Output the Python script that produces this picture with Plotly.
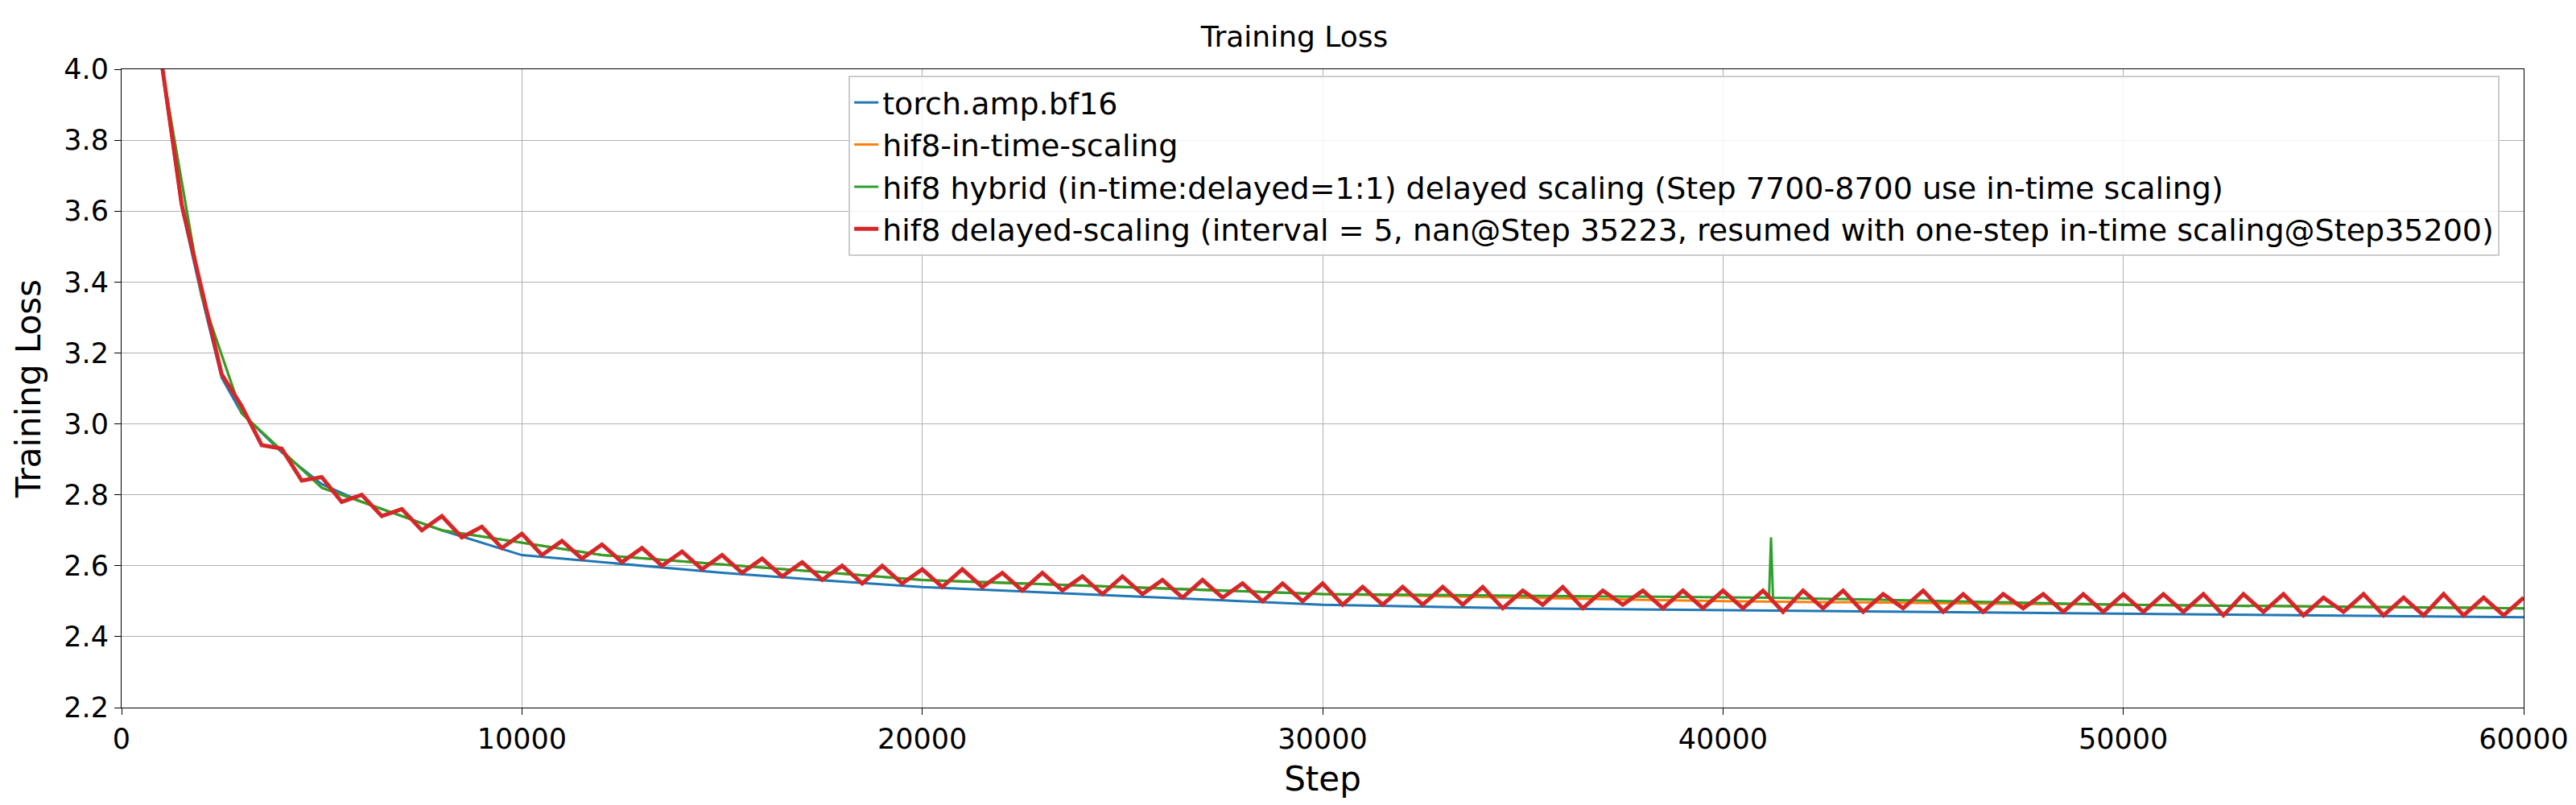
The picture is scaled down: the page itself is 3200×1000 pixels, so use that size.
import plotly.graph_objects as go

# red: hif8 delayed-scaling, sampled every 500 steps (upper / lower edge of the noise band)
red_steps = list(range(1000, 60001, 500))
red_loss = [4.02, 3.62, 3.38, 3.14, 3.05, 2.94, 2.93, 2.84, 2.85, 2.78, 2.80, 2.74, 2.76, 2.70, 2.74, 2.68,
            2.71, 2.65, 2.69, 2.63, 2.67, 2.62, 2.66, 2.61, 2.65, 2.60, 2.64, 2.59, 2.63, 2.58, 2.62, 2.57,
            2.61, 2.56, 2.60, 2.55, 2.60, 2.55, 2.59, 2.54, 2.59, 2.54, 2.58, 2.53, 2.58, 2.53, 2.57, 2.52,
            2.57, 2.52, 2.56, 2.51, 2.56, 2.51, 2.55, 2.50, 2.55, 2.50, 2.55, 2.49, 2.54, 2.49, 2.54, 2.49,
            2.54, 2.49, 2.54, 2.48, 2.53, 2.49, 2.54, 2.48, 2.53, 2.49, 2.53, 2.48, 2.53, 2.48, 2.53, 2.48,
            2.53, 2.47, 2.53, 2.48, 2.53, 2.47, 2.52, 2.48, 2.53, 2.47, 2.52, 2.47, 2.52, 2.48, 2.52, 2.47,
            2.52, 2.47, 2.52, 2.47, 2.52, 2.47, 2.52, 2.46, 2.52, 2.47, 2.52, 2.46, 2.51, 2.47, 2.52, 2.46,
            2.51, 2.46, 2.52, 2.46, 2.51, 2.46, 2.51]

# blue: torch.amp.bf16, slightly lower edge
blue_steps = [1000, 1500, 2000, 2500, 3000, 4000, 5000, 6000, 7000, 8000, 10000, 12000, 15000, 18000,
              20000, 25000, 30000, 35000, 40000, 45000, 50000, 55000, 60000]
blue_loss = [4.01, 3.61, 3.36, 3.13, 3.03, 2.92, 2.83, 2.78, 2.74, 2.70, 2.63, 2.61, 2.58, 2.555,
             2.54, 2.515, 2.49, 2.48, 2.475, 2.47, 2.465, 2.46, 2.455]

orange_steps = [1000, 2000, 3000, 5000, 8000, 12000, 20000, 30000, 40000, 50000, 60000]
orange_loss = [4.01, 3.36, 3.03, 2.82, 2.70, 2.63, 2.56, 2.52, 2.50, 2.49, 2.48]

green_steps = [1000, 2000, 3000, 5000, 8000, 12000, 20000, 30000, 41150, 41200, 41250, 50000, 60000]
green_loss = [4.01, 3.36, 3.03, 2.82, 2.70, 2.63, 2.56, 2.52, 2.51, 2.68, 2.51, 2.49, 2.48]

labels = ["torch.amp.bf16", "hif8-in-time-scaling",
          "hif8 hybrid (in-time:delayed=1:1) delayed scaling (Step 7700-8700 use in-time scaling)",
          "hif8 delayed-scaling (interval = 5, nan@Step 35223, resumed with one-step in-time scaling@Step35200)"]
colors = ["#1f77b4", "#ff7f0e", "#2ca02c", "#d62728"]
widths = [3, 3, 3, 5]

fig = go.Figure()
for xs, ys, name, c, w in zip([blue_steps, orange_steps, green_steps, red_steps],
                              [blue_loss, orange_loss, green_loss, red_loss], labels, colors, widths):
    fig.add_trace(go.Scatter(x=xs, y=ys, mode="lines", name=name, line=dict(color=c, width=w)))

axis_style = dict(showgrid=True, gridcolor="#b0b0b0", gridwidth=1, showline=True, linecolor="black",
                  mirror=True, ticks="outside", tickcolor="black", ticklen=8, zeroline=False,
                  tickfont=dict(size=35, color="black"))
fig.update_layout(
    width=3200, height=1000, plot_bgcolor="white", paper_bgcolor="white",
    font=dict(family="DejaVu Sans", color="black"),
    title=dict(text="Training Loss", x=0.5, xanchor="center", y=0.975, font=dict(size=36)),
    margin=dict(l=143, r=73, t=78, b=129),
    xaxis=dict(range=[0, 60000], dtick=10000, tickformat="d", title=dict(text="Step", font=dict(size=42)), **axis_style),
    yaxis=dict(range=[2.2, 4.0], dtick=0.2, tickformat=".1f", title=dict(text="Training Loss", font=dict(size=42)), **axis_style),
    legend=dict(x=0.99, y=0.99, xanchor="right", yanchor="top", bgcolor="rgba(255,255,255,0.85)",
                bordercolor="#cccccc", borderwidth=2, font=dict(size=38)),
    showlegend=True,
)
fig.write_html("out.html")
